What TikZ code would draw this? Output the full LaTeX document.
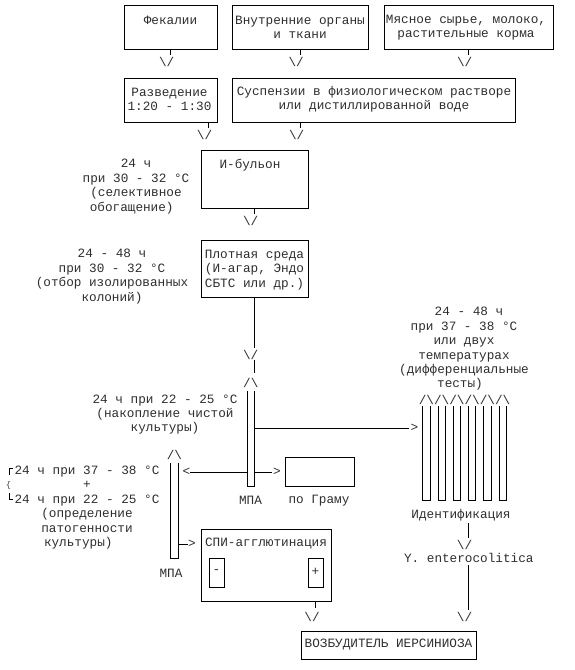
\documentclass[tikz,border=0pt]{standalone}
\usepackage{fontspec}
\setmainfont{Liberation Mono}
\newcommand\dgfont{\fontsize{12.7}{14.4}\selectfont}
\newcommand\dgdn{\textbackslash/}
\newcommand\dgup{/\textbackslash}
\begin{document}
\begin{tikzpicture}[x=1pt,y=-1pt,
  box/.style={draw,line width=0.9pt,inner sep=0pt},
  txt/.style={font=\dgfont,align=center,inner sep=0pt,text=black!82},
  gl/.style={font=\dgfont,inner sep=0pt,text=black!82},
  ln/.style={line width=0.9pt}]
\useasboundingbox (0,0) rectangle (574,670);

% ---------- boxes ----------
\node[box,minimum width=93pt,minimum height=44pt]  (fek)  at (170.5,27) {};
\node[box,minimum width=136pt,minimum height=44pt] (vnu)  at (300,27) {};
\node[box,minimum width=169pt,minimum height=44pt] (mya)  at (468.5,27) {};
\node[box,minimum width=93pt,minimum height=44pt]  (raz)  at (170.5,100) {};
\node[box,minimum width=283pt,minimum height=44pt] (sus)  at (373.5,100) {};
\node[box,minimum width=107pt,minimum height=58pt] (ibul) at (254.5,179) {};
\node[box,minimum width=107pt,minimum height=57pt] (plot) at (254.5,268.5) {};
\node[box,minimum width=69pt,minimum height=29pt]  (gram) at (319.5,471.5) {};
\node[box,minimum width=130pt,minimum height=72pt] (spi)  at (266,565) {};
\node[box,minimum width=15pt,minimum height=29pt]  (minus) at (216.5,572.5) {};
\node[box,minimum width=15pt,minimum height=29pt]  (plus)  at (315.5,572.5) {};
\node[box,minimum width=175pt,minimum height=28pt] (voz)  at (388.5,645) {};

% ---------- box texts ----------
\node[txt] (fekT)  at (170.5,20) {Фекалии};
\node[txt] (vnuT)  at (300,27.5) {Внутренние органы\\и ткани};
\node[txt] (myaT)  at (466,27.5) {Мясное сырье, молоко,\\растительные корма};
\node[txt] (razT)  at (169.5,99.5) {Разведение\\1:20 - 1:30};
\node[txt] (susT)  at (374,99.5) {Суспензии в физиологическом растворе\\или дистиллированной воде};
\node[txt] (ibulT) at (250,165) {И-бульон};
\node[txt] (plotT) at (254.5,270) {Плотная среда\\(И-агар, Эндо\\СБТС или др.)};
\node[txt] (spiT)  at (266,544) {СПИ-агглютинация};
\node[gl]  (minusT) at (216.5,572) {-};
\node[gl]  (plusT)  at (315.5,572) {+};
\node[txt] (vozT)  at (388.5,645) {ВОЗБУДИТЕЛЬ ИЕРСИНИОЗА};

% ---------- side texts ----------
\node[txt] (t1) at (136,186.5) {24 ч\\при 30 - 32 °C\\(селективное\hspace*{14pt}\\обогащение)\hspace*{8.6pt}};
\node[txt] (t2) at (112,276.5) {24 - 48 ч\\при 30 - 32 °C\\(отбор изолированных\\колоний)};
\node[txt] (t3) at (165,414.5) {24 ч при 22 - 25 °C\\(накопление чистой\\культуры)};
\node[txt] (t4) at (87,507.5) {24 ч при 37 - 38 °C\\+\hspace*{10.6pt}\\24 ч при 22 - 25 °C\\(определение\\патогенности\\культуры)\hspace*{17.4pt}};
\node[txt] (t5) at (464,349) {\hspace*{10pt}24 - 48 ч\\при 37 - 38 °C\\или двух\\температурах\\(дифференциальные\\тесты)\hspace*{8pt}};
\node[txt] (mpa1) at (250.5,500.7) {МПА};
\node[txt] (gramT) at (319,500.7) {по Граму};
\node[txt] (mpa2) at (171,573) {МПА};
\node[txt] (ident) at (461,515) {Идентификация};
\node[txt] (yent) at (468.8,558) {Y. enterocolitica};

% bracket
\draw[ln,line width=0.7pt] (9.5,475) -- (9.5,468) -- (13,468);
\draw[ln,line width=0.7pt] (9.5,493) -- (9.5,499.5) -- (13,499.5);
\node[gl,font=\fontsize{8}{8}\selectfont] (brace) at (8.5,485) {\{};

% ---------- top connectors ----------
\coordinate (fekE) at (170.5,55);
\draw[ln] (fek.south) -- (fekE);
\node[gl] (fekA) at (166.7,62) {\dgdn};
\coordinate (vnuE) at (300,55);
\draw[ln] (vnu.south) -- (vnuE);
\node[gl] (vnuA) at (296.2,62) {\dgdn};
\coordinate (myaE) at (468.5,55);
\draw[ln] (mya.south) -- (myaE);
\node[gl] (myaA) at (464.7,62) {\dgdn};
\coordinate (razE) at (208.3,128);
\draw[ln] (raz.south -| razE) -- (razE);
\node[gl] (razA) at (204.5,135) {\dgdn};
\coordinate (susE) at (300.5,128);
\draw[ln] (sus.south -| susE) -- (susE);
\node[gl] (susA) at (296.7,135) {\dgdn};
\coordinate (ibulE) at (254.5,214);
\draw[ln] (ibul.south) -- (ibulE);
\node[gl] (ibulA) at (250.7,221) {\dgdn};

% ---------- main column ----------
\coordinate (mainE) at (254.5,348);
\draw[ln] (plot.south) -- (mainE);
\node[gl] (mainA) at (250.7,355) {\dgdn};
\coordinate (mainT1) at (254.5,360);
\coordinate (mainT2) at (254.5,373);
\draw[ln] (mainT1) -- (mainT2);
\node[gl] (tubeA) at (250.8,383) {\dgup};
% tube (МПА)
\coordinate (tL) at (247,391);
\coordinate (tR) at (254.5,391);
\coordinate (tB) at (247,486);
\draw[ln] (tL) -- (tB) -- (tB -| tR) -- (tR);

% to identification tubes
\coordinate (idIn) at (409,428);
\draw[ln] (tR |- idIn) -- (idIn);
\node[gl] (idArr) at (414.5,428) {>};
% to gram
\coordinate (grIn) at (272,472);
\draw[ln] (tR |- grIn) -- (grIn);
\node[gl] (grArr) at (277,472) {>};
% to left tube
\coordinate (lfIn) at (190,472);
\draw[ln] (tL |- lfIn) -- (lfIn);
\node[gl] (lfArr) at (186.5,472) {<};

% left tube
\node[gl] (ltA) at (174.5,455) {\dgup};
\coordinate (ltL) at (170.8,463);
\coordinate (ltR) at (178.3,463);
\coordinate (ltB) at (170.8,558);
\draw[ln] (ltL) -- (ltB) -- (ltB -| ltR) -- (ltR);
\coordinate (spIn) at (188,544);
\draw[ln] (ltR |- spIn) -- (spIn);
\node[gl] (spArr) at (192,544) {>};

% identification tubes
\node[gl] (mA) at (464.6,400) {\dgup\dgup\dgup\dgup\dgup\dgup};
\foreach \i in {0,...,5} {
  \coordinate (m\i L) at (422.7+15.25*\i,406);
  \coordinate (m\i B) at (422.7+15.25*\i,500);
  \coordinate (m\i R) at (430.1+15.25*\i,406);
  \draw[ln] (m\i L) -- (m\i B) -- (m\i B -| m\i R) -- (m\i R);
}

% identification -> Y. enterocolitica
\coordinate (idS) at (468.3,523);
\coordinate (idE) at (468.3,538);
\draw[ln] (idS) -- (idE);
\node[gl] (idA) at (464.5,545) {\dgdn};
\coordinate (yS) at (468.3,565);
\coordinate (yE) at (468.3,610);
\draw[ln] (yS) -- (yE);
\node[gl] (yA) at (464.5,617) {\dgdn};

% spi -> voz
\coordinate (spE) at (315.7,608);
\draw[ln] (spi.south -| spE) -- (spE);
\node[gl] (spA) at (312,617) {\dgdn};
\end{tikzpicture}
\end{document}
